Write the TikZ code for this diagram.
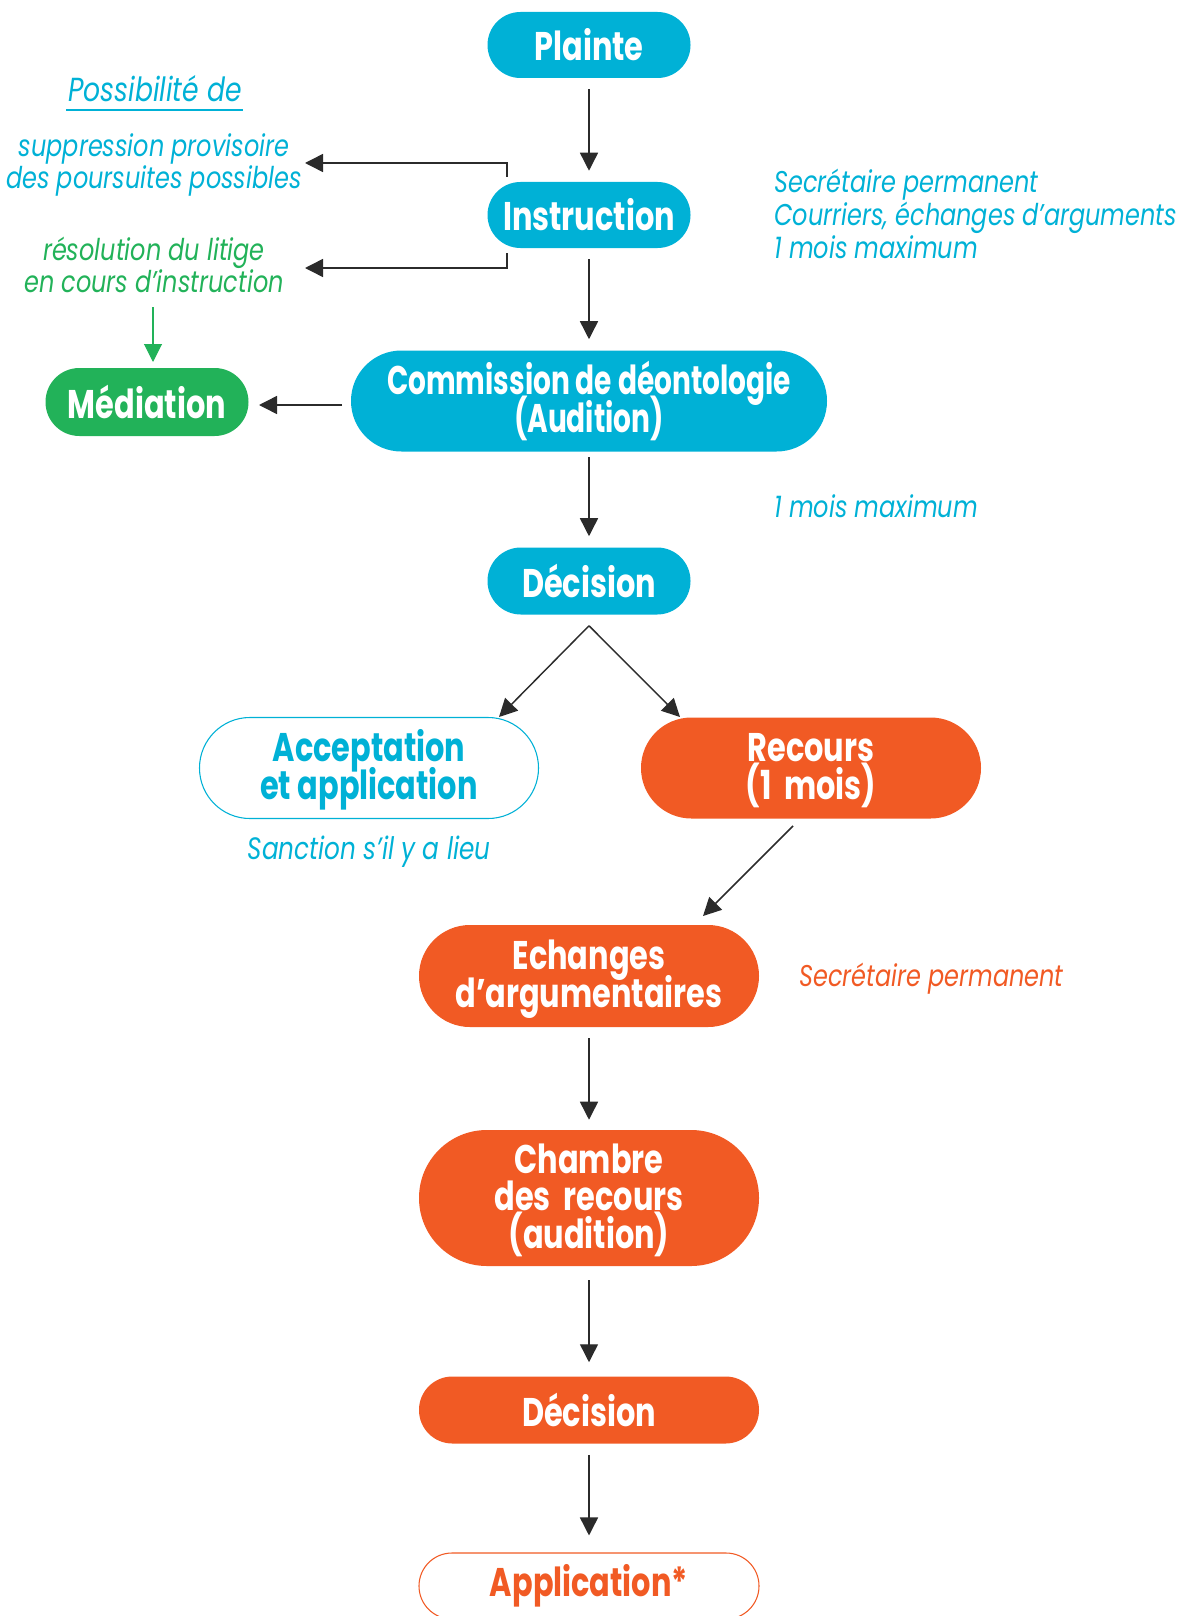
\documentclass[tikz,border=0pt]{standalone}
\usepackage{fontspec}
\setmainfont{Poppins}[FakeStretch=0.8]
\newfontfamily\boldnorm{Poppins}[FakeStretch=0.76]
\newfontfamily\boldnarrow{Poppins}[FakeStretch=0.7]
\usetikzlibrary{arrows.meta}
\definecolor{cblue}{HTML}{00B1D6}
\definecolor{corange}{HTML}{F15A24}
\definecolor{cgreen}{HTML}{22B259}
\definecolor{cline}{HTML}{2B2B2B}
\AtBeginDocument{\lineskiplimit=-40pt\relax}
\tikzset{
  pill/.style n args={3}{minimum width=#1, minimum height=#2, rounded corners=#3, inner sep=0pt, align=center},
  boxtxt/.style={font=\boldnorm\bfseries\fontsize{30}{28.5}\selectfont},
  narrowtxt/.style={font=\boldnarrow\bfseries\fontsize{30}{28.5}\selectfont},
  twolines/.style={text depth=0pt, text height=47.5pt},
  threelines/.style={text depth=0pt, text height=75pt, font=\boldnorm\bfseries\fontsize{30}{27.8}\selectfont},
  bluebox/.style={fill=cblue, text=white, boxtxt},
  orangebox/.style={fill=corange, text=white, boxtxt},
  greenbox/.style={fill=cgreen, text=white, boxtxt},
  annot/.style={font=\itshape\fontsize{22.5}{24.5}\selectfont, inner sep=0pt},
  arr/.style={draw=cline, line width=1.1pt, -{Triangle[width=13.5pt,length=13.5pt]}},
  garr/.style={draw=cgreen, line width=0.8pt, -{Triangle[width=13.5pt,length=13.5pt]}, cgreen},
}
\begin{document}
\begin{tikzpicture}[x=0.75pt,y=-0.75pt]
\useasboundingbox (0,0) rectangle (1186,1616);
\clip (0,0) rectangle (1186,1616);
% nodes
\node[pill={152.25pt}{49.5pt}{24.7pt}, bluebox] (plainte) at (589,45) {Plainte};
\node[pill={152.25pt}{49.5pt}{24.7pt}, bluebox] (instr) at (589,215) {Instruction};
\node[pill={357pt}{75.75pt}{37.8pt}, bluebox, narrowtxt, twolines] (comm) at (589,401) {Commission~de~déontologie\\(Audition)};
\node[pill={152.25pt}{51pt}{25.4pt}, greenbox] (med) at (147,402) {Médiation};
\node[pill={152.25pt}{50.25pt}{25pt}, bluebox] (dec1) at (589,581) {Décision};
\node[pill={254.25pt}{75.75pt}{37.8pt}, draw=cblue, line width=0.8pt, fill=white, text=cblue, boxtxt, twolines] (acc) at (369,768) {Acceptation\\et~application};
\node[pill={255pt}{75.75pt}{37.8pt}, orangebox, twolines] (rec) at (811,768) {Recours\\(1~~mois)};
\node[pill={255pt}{76.5pt}{38.2pt}, orangebox, twolines] (ech) at (589,976) {Echanges\\d’argumentaires};
\node[pill={255pt}{102pt}{50.9pt}, orangebox, threelines] (ch) at (589,1198) {Chambre\\des~~recours\\(audition)};
\node[pill={255pt}{50.25pt}{25pt}, orangebox] (dec2) at (589,1410) {Décision};
\node[pill={255pt}{49.5pt}{24.7pt}, draw=corange, line width=0.8pt, fill=white, text=corange, boxtxt] (app) at (589,1586) {Application*};
% annotations
\node[annot, font=\itshape\fontsize{25}{27}\selectfont, text=cblue, anchor=base] (poss) at (155,102) {Possibilité de};
\draw[cblue, line width=0.8pt] (66,110) -- (243,110);
\node[annot, text=cblue, align=center] (supp) at (154,165) {suppression provisoire\\des poursuites possibles};
\node[annot, text=cgreen, align=center] (reso) at (154,265) {résolution du litige\\en cours d’instruction};
\node[annot, text=cblue, align=left, anchor=west] (secr) at (774,214) {Secrétaire permanent\\Courriers, échanges d’arguments\\1 mois maximum};
\node[annot, text=cblue, anchor=west] (mois) at (774,506) {1 mois maximum};
\node[annot, font=\itshape\fontsize{23.2}{25}\selectfont, text=cblue] (sanc) at (369,852) {Sanction s’il y a lieu};
\node[annot, text=corange, anchor=west] (secr2) at (799,979) {Secrétaire permanent};
% coordinates
\coordinate (b1s) at ([xshift=-61.5pt,yshift=3.75pt]instr.north);
\coordinate (b1e) at (305,163);
\coordinate (b2s) at ([xshift=-61.5pt,yshift=-3.75pt]instr.south);
\coordinate (b2e) at (305,268);
\coordinate (apex) at ([yshift=-8.25pt]dec1.south);
\coordinate (acct) at (499,717);
\coordinate (rect) at (680,717);
\coordinate (recs) at (793,826);
\coordinate (echt) at (703,916);
\coordinate (medt) at (259,405);
\coordinate (comms) at (342,405);
\coordinate (gs) at (153,307);
\coordinate (gt) at (153,362);
% connectors
\draw[arr, shorten <=8.25pt, shorten >=8.25pt] (plainte) -- (instr);
\draw[arr, shorten <=8.25pt, shorten >=8.25pt] (instr) -- (comm);
\draw[arr, shorten <=4pt, shorten >=8.25pt] (comm) -- (dec1);
\draw[arr] (b1s) |- (b1e);
\draw[arr] (b2s) |- (b2e);
\draw[arr] (comms) -- (medt);
\draw[garr] (gs) -- (gt);
\draw[arr] (apex) -- (acct);
\draw[arr] (apex) -- (rect);
\draw[arr] (recs) -- (echt);
\draw[arr, shorten <=8.25pt, shorten >=7.5pt] (ech) -- (ch);
\draw[arr, shorten <=10.5pt, shorten >=10.5pt] (ch) -- (dec2);
\draw[arr, shorten <=8.25pt, shorten >=12.75pt] (dec2) -- (app);
\end{tikzpicture}
\end{document}
